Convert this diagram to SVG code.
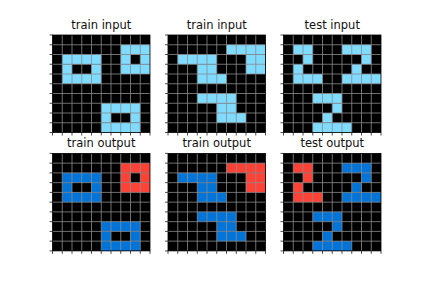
<svg xmlns="http://www.w3.org/2000/svg" xmlns:xlink="http://www.w3.org/1999/xlink" width="423" height="282" viewBox="0 0 423 282">
<style>
.bg{fill:#000}
.az{fill:#7FDBFF}
.bl{fill:#0074D9}
.rd{fill:#FF4136}
.grid{stroke:#8c8c8c;stroke-width:0.8;fill:none}
.frame{stroke:#000;stroke-width:0.8;fill:none}
.tick{stroke:#222;stroke-width:0.8;fill:none}
.title{font-family:"DejaVu Sans",sans-serif;font-size:11.5px;fill:#111;text-anchor:middle}
</style>
<defs>
<g id="overlay">
<path class="grid" d="M9.75 0V97.5M19.5 0V97.5M29.25 0V97.5M39 0V97.5M48.75 0V97.5M58.5 0V97.5M68.25 0V97.5M78 0V97.5M87.75 0V97.5M0 9.75H97.5M0 19.5H97.5M0 29.25H97.5M0 39H97.5M0 48.75H97.5M0 58.5H97.5M0 68.25H97.5M0 78H97.5M0 87.75H97.5"/>
<rect class="frame" x="0" y="0" width="97.5" height="97.5"/>
<path class="tick" d="M-3 0H0M-3 9.75H0M-3 19.5H0M-3 29.25H0M-3 39H0M-3 48.75H0M-3 58.5H0M-3 68.25H0M-3 78H0M-3 87.75H0M-3 97.5H0M0 97.5V100.5M9.75 97.5V100.5M19.5 97.5V100.5M29.25 97.5V100.5M39 97.5V100.5M48.75 97.5V100.5M58.5 97.5V100.5M68.25 97.5V100.5M78 97.5V100.5M87.75 97.5V100.5M97.5 97.5V100.5"/>
</g>
</defs>

<g id="panel-train-input-1" transform="translate(52.5,35)">
<text class="title" x="48.75" y="-6.5">train input</text>
<rect class="bg" width="97.5" height="97.5"/>
<g transform="scale(9.75)" class="az">
<rect x="1" y="2" width="4" height="1"/><rect x="1" y="3" width="1" height="1"/><rect x="4" y="3" width="1" height="1"/><rect x="1" y="4" width="4" height="1"/>
<rect x="7" y="1" width="3" height="1"/><rect x="7" y="2" width="1" height="1"/><rect x="9" y="2" width="1" height="1"/><rect x="7" y="3" width="3" height="1"/>
<rect x="5" y="7" width="4" height="1"/><rect x="5" y="8" width="1" height="1"/><rect x="8" y="8" width="1" height="1"/><rect x="5" y="9" width="4" height="1"/>
</g>
<use xlink:href="#overlay"/>
</g>

<g id="panel-train-input-2" transform="translate(168,35)">
<text class="title" x="48.75" y="-6.5">train input</text>
<rect class="bg" width="97.5" height="97.5"/>
<g transform="scale(9.75)" class="az">
<rect x="6" y="1" width="4" height="1"/><rect x="8" y="2" width="2" height="2"/>
<rect x="1" y="2" width="4" height="1"/><rect x="3" y="3" width="2" height="1"/><rect x="3" y="4" width="3" height="1"/>
<rect x="3" y="6" width="4" height="1"/><rect x="5" y="7" width="2" height="1"/><rect x="5" y="8" width="3" height="1"/>
</g>
<use xlink:href="#overlay"/>
</g>

<g id="panel-test-input" transform="translate(283.5,35)">
<text class="title" x="48.75" y="-6.5">test input</text>
<rect class="bg" width="97.5" height="97.5"/>
<g transform="scale(9.75)" class="az">
<rect x="1" y="1" width="2" height="1"/><rect x="2" y="2" width="1" height="1"/><rect x="1" y="3" width="1" height="1"/><rect x="1" y="4" width="3" height="1"/>
<rect x="6" y="1" width="3" height="1"/><rect x="8" y="2" width="1" height="1"/><rect x="7" y="3" width="1" height="1"/><rect x="6" y="4" width="4" height="1"/>
<rect x="3" y="6" width="3" height="1"/><rect x="5" y="7" width="1" height="1"/><rect x="4" y="8" width="1" height="1"/><rect x="3" y="9" width="4" height="1"/>
</g>
<use xlink:href="#overlay"/>
</g>

<g id="panel-train-output-1" transform="translate(52.5,153.4)">
<text class="title" x="48.75" y="-6.5">train output</text>
<rect class="bg" width="97.5" height="97.5"/>
<g transform="scale(9.75)">
<g class="bl"><rect x="1" y="2" width="4" height="1"/><rect x="1" y="3" width="1" height="1"/><rect x="4" y="3" width="1" height="1"/><rect x="1" y="4" width="4" height="1"/></g>
<g class="rd"><rect x="7" y="1" width="3" height="1"/><rect x="7" y="2" width="1" height="1"/><rect x="9" y="2" width="1" height="1"/><rect x="7" y="3" width="3" height="1"/></g>
<g class="bl"><rect x="5" y="7" width="4" height="1"/><rect x="5" y="8" width="1" height="1"/><rect x="8" y="8" width="1" height="1"/><rect x="5" y="9" width="4" height="1"/></g>
</g>
<use xlink:href="#overlay"/>
</g>

<g id="panel-train-output-2" transform="translate(168,153.4)">
<text class="title" x="48.75" y="-6.5">train output</text>
<rect class="bg" width="97.5" height="97.5"/>
<g transform="scale(9.75)">
<g class="rd"><rect x="6" y="1" width="4" height="1"/><rect x="8" y="2" width="2" height="2"/></g>
<g class="bl"><rect x="1" y="2" width="4" height="1"/><rect x="3" y="3" width="2" height="1"/><rect x="3" y="4" width="3" height="1"/>
<rect x="3" y="6" width="4" height="1"/><rect x="5" y="7" width="2" height="1"/><rect x="5" y="8" width="3" height="1"/></g>
</g>
<use xlink:href="#overlay"/>
</g>

<g id="panel-test-output" transform="translate(283.5,153.4)">
<text class="title" x="48.75" y="-6.5">test output</text>
<rect class="bg" width="97.5" height="97.5"/>
<g transform="scale(9.75)">
<g class="rd"><rect x="1" y="1" width="2" height="1"/><rect x="2" y="2" width="1" height="1"/><rect x="1" y="3" width="1" height="1"/><rect x="1" y="4" width="3" height="1"/></g>
<g class="bl"><rect x="6" y="1" width="3" height="1"/><rect x="8" y="2" width="1" height="1"/><rect x="7" y="3" width="1" height="1"/><rect x="6" y="4" width="4" height="1"/>
<rect x="3" y="6" width="3" height="1"/><rect x="5" y="7" width="1" height="1"/><rect x="4" y="8" width="1" height="1"/><rect x="3" y="9" width="4" height="1"/></g>
</g>
<use xlink:href="#overlay"/>
</g>

<g id="connectors"></g>
</svg>
